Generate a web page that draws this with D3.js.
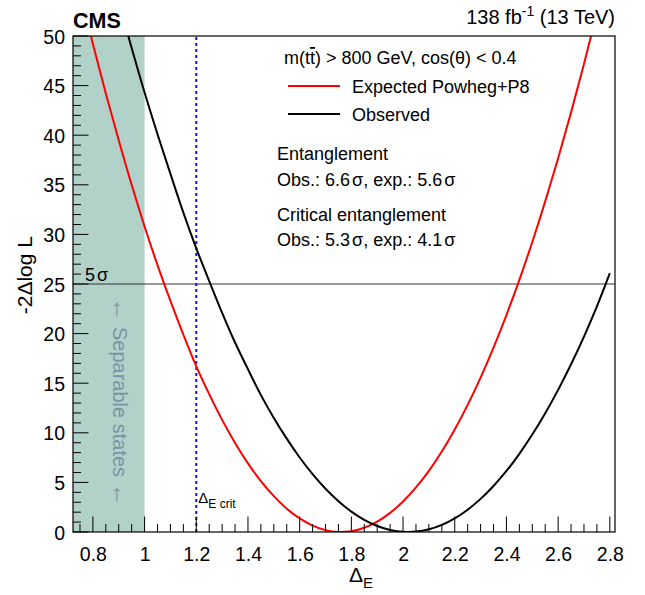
<!DOCTYPE html>
<html><head><meta charset="utf-8">
<script src="https://cdn.jsdelivr.net/npm/d3@7"></script>
<style>
body{margin:0;background:#fff}
text{font-family:"Liberation Sans",Arial,Helvetica,sans-serif}
</style>
</head><body>
<svg id="c" width="645" height="595"></svg>
<script>
// ---- data ----
const deltaE = [0.75,0.80,0.85,0.90,0.95,1.00,1.05,1.10,1.15,1.20,1.25,1.30,1.35,1.40,1.45,1.50,1.55,1.60,1.65,1.70,1.75,1.80,1.85,1.90,1.95,2.00,2.05,2.10,2.15,2.20,2.25,2.30,2.35,2.40,2.45,2.50,2.55,2.60,2.65,2.70,2.75,2.80];
const expected = [54.5,49.2,44.2,39.5,35.0,30.8,26.9,23.3,19.9,16.7,13.9,11.3,8.98,6.92,5.13,3.61,2.35,1.37,0.65,0.19,0.005,0.085,0.43,1.05,1.93,3.08,4.49,6.17,8.12,10.34,12.82,15.57,18.59,21.87,25.42,29.24,33.33,37.68,42.30,47.18,52.34,57.8];
const observed = [68.7,63.4,58.3,53.4,48.8,44.3,40.1,36.1,32.2,28.6,25.3,22.1,19.1,16.4,13.8,11.5,9.41,7.51,5.83,4.36,3.11,2.06,1.23,0.61,0.21,0.02,0.04,0.27,0.72,1.38,2.25,3.34,4.64,6.15,7.88,9.82,11.97,14.33,16.91,19.70,22.75,26.1];
const xDomain = [0.723, 2.82];
const yDomain = [0, 50];
const xTicks = [0.8,1,1.2,1.4,1.6,1.8,2,2.2,2.4,2.6,2.8];
const yTicks = [0,5,10,15,20,25,30,35,40,45,50];
const separableEdge = 1.0;
const criticalDelta = 1.2;
const fiveSigma = 25;
const legendItems = ["Expected Powheg+P8","Observed"];

// ---- layout ----
const L = 73, R = 615, T = 36, B = 532;
const svg = d3.select("#c");
const x = d3.scaleLinear().domain(xDomain).range([L, R]);
const y = d3.scaleLinear().domain(yDomain).range([B, T]);

svg.append("defs").append("clipPath").attr("id","clip")
  .append("rect").attr("x",L).attr("y",T).attr("width",R-L).attr("height",B-T);

// shaded separable region
svg.append("rect").attr("x",L).attr("y",T)
  .attr("width",x(separableEdge)-L).attr("height",B-T).attr("fill","#b2d1c9");

// separable states text
const st = svg.append("text")
  .attr("transform",`translate(113,${y(13.1)}) rotate(90)`)
  .attr("text-anchor","middle")
  .attr("font-size",20).attr("fill","#7b93a6");
st.append("tspan").attr("font-size",24).text("\u2190");
st.append("tspan").text(" Separable states ");
st.append("tspan").attr("font-size",24).text("\u2190");

const g = svg.append("g").attr("clip-path","url(#clip)");

// 5 sigma line
g.append("line").attr("x1",L).attr("x2",R).attr("y1",y(fiveSigma)).attr("y2",y(fiveSigma))
  .attr("stroke","#333").attr("stroke-width",1);

// critical line
g.append("line").attr("x1",x(criticalDelta)).attr("x2",x(criticalDelta)).attr("y1",B).attr("y2",T)
  .attr("stroke","#1010ee").attr("stroke-width",2).attr("stroke-dasharray","3,3");

const line = d3.line().x((d,i)=>x(deltaE[i])).y(d=>y(d)).curve(d3.curveCatmullRom);
g.append("path").datum(expected).attr("d",line).attr("fill","none").attr("stroke","#ff0000").attr("stroke-width",2);
g.append("path").datum(observed).attr("d",line).attr("fill","none").attr("stroke","#000").attr("stroke-width",2);

// axes (ticks inside)
const xAxis = d3.axisBottom(x).tickValues(xTicks).tickSize(0).tickFormat(d3.format("~g"));
const ax = svg.append("g").attr("transform",`translate(0,${B})`).call(xAxis);
ax.select(".domain").remove();
ax.selectAll("text").attr("font-size",19.5).attr("dy","1.35em").attr("fill","#000")
  .style("font-family",'"Liberation Sans",Arial,sans-serif');
const yAxis = d3.axisLeft(y).tickValues(yTicks).tickSize(0);
const ay = svg.append("g").attr("transform",`translate(${L},0)`).call(yAxis);
ay.select(".domain").remove();
ay.selectAll("text").attr("font-size",19.5).attr("x",-8).attr("dy","0.36em").attr("fill","#000")
  .style("font-family",'"Liberation Sans",Arial,sans-serif');

// tick marks
const xMinor = d3.range(0.75, 2.8001, 0.05);
svg.append("g").selectAll("line").data(xMinor).join("line")
  .attr("x1",d=>x(d)).attr("x2",d=>x(d)).attr("y1",B)
  .attr("y2",d=>B-(Math.abs(Math.round(d*5)-d*5)<1e-6?15.5:8))
  .attr("stroke","#000").attr("stroke-width",1);
const yMinor = d3.range(0, 50.001, 1);
svg.append("g").selectAll("line").data(yMinor).join("line")
  .attr("y1",d=>y(d)).attr("y2",d=>y(d)).attr("x1",L)
  .attr("x2",d=>L+(d%5===0?15.5:8))
  .attr("stroke","#000").attr("stroke-width",1);

// frame
svg.append("rect").attr("x",L).attr("y",T).attr("width",R-L).attr("height",B-T)
  .attr("fill","none").attr("stroke","#000").attr("stroke-width",1.2);

// labels
const fs = svg.append("text").attr("x",L+12).attr("y",y(fiveSigma)-3).attr("font-size",18);
fs.append("tspan").text("5");
fs.append("tspan").attr("dx",2).text("\u03c3");
const crit = svg.append("text").attr("x",x(criticalDelta)+2).attr("y",B-29).attr("font-size",15);
crit.append("tspan").text("\u0394");
crit.append("tspan").attr("font-size",12).attr("dy",5).text("E crit");

svg.append("text").attr("x",L).attr("y",28).attr("font-size",21.5).attr("font-weight","bold").text("CMS");
const lumi = svg.append("text").attr("x",R).attr("y",24).attr("font-size",20).attr("text-anchor","end");
lumi.append("tspan").text("138 fb");
lumi.append("tspan").attr("font-size",14).attr("dy",-8).text("-1");
lumi.append("tspan").attr("dy",8).text(" (13 TeV)");

// axis titles
const xt = svg.append("text").attr("x",349).attr("y",582).attr("font-size",21);
xt.append("tspan").text("\u0394");
xt.append("tspan").attr("font-size",15).attr("dy",6).text("E");
svg.append("text").attr("transform",`translate(32,236) rotate(-90)`).attr("text-anchor","end")
  .attr("font-size",21).text("-2\u0394log L");

// legend
const lg = svg.append("g");
const mt = lg.append("text").attr("x",284).attr("y",64).attr("font-size",18);
mt.append("tspan").text("m(t");
mt.append("tspan").text("t").attr("text-decoration","overline");
mt.append("tspan").text(") > 800 GeV, cos(\u03b8) < 0.4");
const colors = ["#ff0000","#000"];
const ly = [86,114];
legendItems.forEach((t,i)=>{
  lg.append("line").attr("x1",288).attr("x2",340).attr("y1",ly[i]).attr("y2",ly[i]).attr("stroke",colors[i]).attr("stroke-width",2);
  lg.append("text").attr("x",352).attr("y",ly[i]+7).attr("font-size",18).text(t);
});
const notes = [
  ["Entanglement",160,null],
  [["Obs.: 6.6","\u03c3",", exp.: 5.6","\u03c3"],186],
  ["Critical entanglement",221,null],
  [["Obs.: 5.3","\u03c3",", exp.: 4.1","\u03c3"],246]];
notes.forEach(([t,yy])=>{
  const tx = lg.append("text").attr("x",277).attr("y",yy).attr("font-size",18);
  if (typeof t === "string") tx.text(t);
  else t.forEach((s,i)=>tx.append("tspan").attr("dx",i%2===1?2:0).text(s));
});
</script>
</body></html>
